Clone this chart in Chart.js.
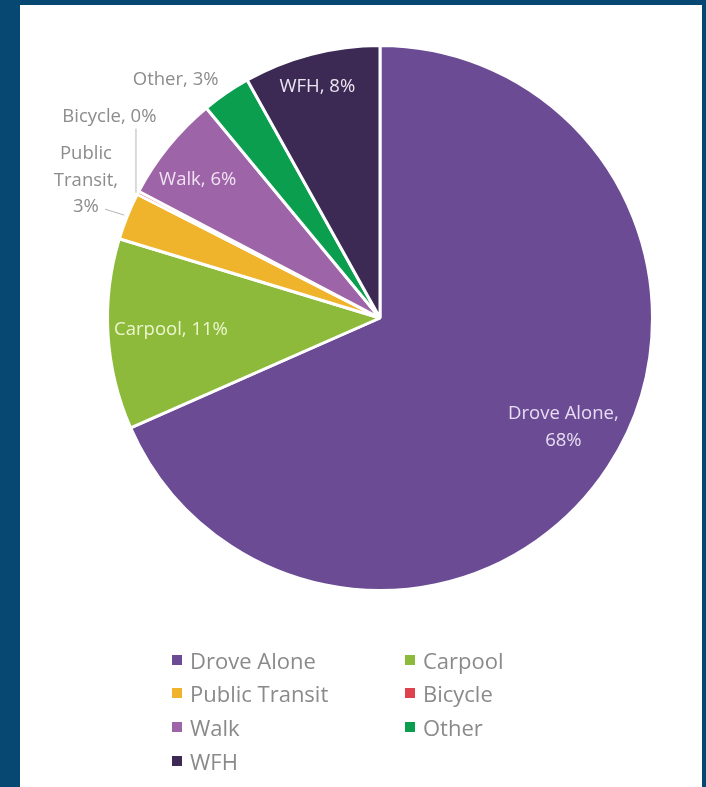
<!DOCTYPE html>
<html>
<head>
<meta charset="utf-8">
<script src="https://cdn.jsdelivr.net/npm/chart.js@4/dist/chart.umd.min.js"></script>
<style>
  html, body { margin: 0; padding: 0; }
  body { width: 706px; height: 787px; background: #064872; position: relative; overflow: hidden; font-family: "Open Sans", sans-serif; }
  #panel { position: absolute; left: 20px; top: 5px; width: 682px; height: 782px; background: #ffffff; }
  #chart { position: absolute; left: 0; top: 0; }
  #legend { position: absolute; left: 152px; top: 638px; display: grid; grid-template-columns: 233px 200px; grid-auto-rows: 33.6px; }
  .item { display: flex; align-items: center; font-size: 22px; color: #8a8a8a; line-height: 1; white-space: nowrap; }
  .item .box { width: 10px; height: 10px; margin-right: 8px; flex: none; }
</style>
</head>
<body>
<div id="panel">
  <canvas id="chart" width="682" height="640"></canvas>
  <div id="legend"></div>
</div>
<script>
// ---- data ----
const categories = ["Drove Alone", "Carpool", "Public Transit", "Bicycle", "Walk", "Other", "WFH"];
const shares = [68.4, 11.3, 2.8, 0.2, 6.3, 2.9, 8.1];
const colors = ["#6a4b94", "#8eba3b", "#efb42b", "#e0414f", "#9d64a8", "#0b9e4f", "#3c2a54"];

// ---- label styling / placement (relative to pie centre, in radius units) ----
const labelStyle = [
  { pos: [0.673, 0.40],  lines: (c, p) => [c + ",", p], color: "#e8ddf3" },
  { pos: [-0.767, 0.044], lines: (c, p) => [c + ", " + p], color: "#ecf6cf" },
  { pos: [-1.079, -0.504], lines: (c, p) => ["Public", "Transit,", p], color: "#8c8c8c", leader: "transit" },
  { pos: [-0.993, -0.739], lines: (c, p) => [c + ", " + p], color: "#8c8c8c", leader: "bicycle" },
  { pos: [-0.669, -0.507], lines: (c, p) => [c + ", " + p], color: "#f2e2f4" },
  { pos: [-0.75, -0.875], lines: (c, p) => [c + ", " + p], color: "#8c8c8c" },
  { pos: [-0.230, -0.849], lines: (c, p) => [c + ", " + p], color: "#ebe5f1" }
];

const labelPlugin = {
  id: "sliceLabels",
  afterDatasetsDraw(chart) {
    const ctx = chart.ctx;
    const meta = chart.getDatasetMeta(0);
    const ds = chart.data.datasets[0];
    ctx.save();
    ctx.font = '18.5px "Open Sans"';
    ctx.textAlign = "center";
    ctx.textBaseline = "middle";
    const lh = 26.5;
    meta.data.forEach((arc, i) => {
      const p = arc.getProps(["x", "y", "startAngle", "endAngle", "outerRadius"], true);
      const R = p.outerRadius;
      const st = labelStyle[i];
      const lx = p.x + st.pos[0] * R;
      const ly = p.y + st.pos[1] * R;
      const lines = st.lines(chart.data.labels[i], Math.round(ds.data[i]) + "%");
      const y0 = ly - (lines.length - 1) * lh / 2;
      if (st.leader) {
        const mid = (p.startAngle + p.endAngle) / 2;
        const ax = p.x + Math.cos(mid) * R;
        const ay = p.y + Math.sin(mid) * R;
        ctx.strokeStyle = "#b5b5b5";
        ctx.lineWidth = 1;
        ctx.beginPath();
        if (st.leader === "bicycle") {
          ctx.moveTo(ax - 2, ay);
          ctx.lineTo(ax - 2, ly + 12);
        } else {
          ctx.moveTo(ax - 3, ay - 1);
          ctx.lineTo(lx + 19, y0 + 2 * lh + 2);
        }
        ctx.stroke();
      }
      ctx.fillStyle = st.color;
      lines.forEach((t, k) => ctx.fillText(t, lx, y0 + k * lh));
    });
    ctx.restore();
  }
};

new Chart(document.getElementById("chart"), {
  type: "pie",
  data: {
    labels: categories,
    datasets: [{
      data: shares,
      backgroundColor: colors,
      borderColor: "#ffffff",
      borderWidth: 3,
      hoverOffset: 0
    }]
  },
  options: {
    responsive: false,
    animation: false,
    events: [],
    layout: { padding: { left: 86, right: 48, top: 39, bottom: 53 } },
    plugins: {
      legend: { display: false },
      tooltip: { enabled: false }
    }
  },
  plugins: [labelPlugin]
});

// ---- HTML legend built from the same arrays ----
const legendEl = document.getElementById("legend");
categories.forEach((c, i) => {
  const it = document.createElement("div");
  it.className = "item";
  const b = document.createElement("span");
  b.className = "box";
  b.style.background = colors[i];
  const t = document.createElement("span");
  t.textContent = c;
  it.appendChild(b);
  it.appendChild(t);
  legendEl.appendChild(it);
});
</script>
</body>
</html>
